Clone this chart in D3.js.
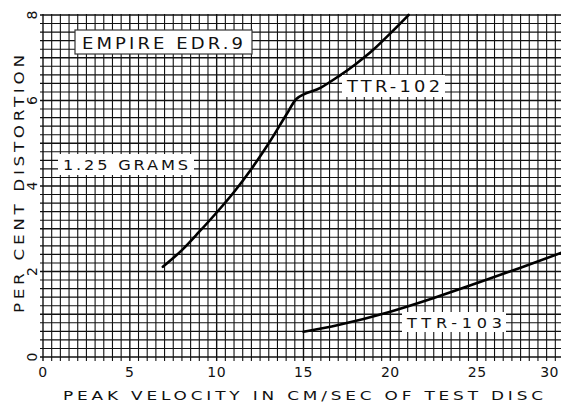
<!DOCTYPE html>
<html><head><meta charset="utf-8">
<script src="https://cdn.jsdelivr.net/npm/d3@7"></script>
<style>
html,body{margin:0;padding:0;background:#fff;overflow:hidden;}
text{font-family:"DejaVu Sans",sans-serif;fill:#111;}
</style></head>
<body>
<svg id="c" width="561" height="404"></svg>
<script>
// ---- data ----
const xTicks = [0, 5, 10, 15, 20, 25, 30];
const yTicks = [0, 2, 4, 6, 8];
const ttr102X = [6.9, 8.0, 9.0, 10.0, 11.0, 12.0, 13.0, 14.0, 14.6, 16.0, 17.0, 18.0, 19.0, 20.0, 21.05];
const ttr102Y = [2.11, 2.50, 2.93, 3.38, 3.86, 4.40, 5.00, 5.66, 6.04, 6.30, 6.56, 6.85, 7.18, 7.57, 8.0];
const ttr103X = [15.0, 17.0, 20.0, 22.5, 25.0, 27.5, 30.0];
const ttr103Y = [0.59, 0.75, 1.06, 1.38, 1.73, 2.09, 2.46];
const xTitle = "PEAK VELOCITY IN CM/SEC OF TEST DISC";
const yTitle = "PER CENT DISTORTION";
const boxTitle = "EMPIRE EDR.9";
const noteLabel = "1.25 GRAMS";
const seriesLabels = ["TTR-102", "TTR-103"];

// ---- chart ----
const svg = d3.select("#c");
const x = d3.scaleLinear().domain([0, 30]).range([43, 564]);
const y = d3.scaleLinear().domain([0, 8]).range([357, 15]);

// graph paper grid
const g = svg.append("g");
const vLines = d3.range(0, 30.001, 0.5);
const hLines = d3.range(0, 8.001, 0.2);
g.selectAll("line.v").data(vLines).join("line")
  .attr("x1", d => x(d)).attr("x2", d => x(d))
  .attr("y1", y(8) - 1).attr("y2", y(0) + 4)
  .attr("stroke", "#111").attr("stroke-width", d => (d % 5 === 0) ? 1.4 : 1.1);
g.selectAll("line.h").data(hLines).join("line")
  .attr("x1", x(0) - 3).attr("x2", x(30))
  .attr("y1", d => y(d)).attr("y2", d => y(d))
  .attr("stroke", "#111").attr("stroke-width", d => (Math.abs(d - Math.round(d)) < 1e-6) ? 1.4 : 1.1);

// curves
const line = d3.line().x(d => x(d[0])).y(d => y(d[1])).curve(d3.curveMonotoneX);
const s102 = ttr102X.map((v, i) => [v, ttr102Y[i]]);
const s103 = ttr103X.map((v, i) => [v, ttr103Y[i]]);
[s102, s103].forEach(s => {
  svg.append("path").attr("d", line(s)).attr("fill", "none")
    .attr("stroke", "#000").attr("stroke-width", 2.6).attr("stroke-linecap", "round");
});

// wide lettering helper: text horizontally stretched like a lettering guide
function wideText(parent, txt, cx, baseline, size, width, sx, rot) {
  const grp = parent.append("g")
    .attr("transform", `translate(${cx},${baseline})` + (rot ? ` rotate(${rot})` : "") + ` scale(${sx},1)`);
  grp.append("text").attr("x", 0).attr("y", 0)
    .attr("text-anchor", "middle").attr("font-size", size)
    .attr("textLength", width / sx).attr("lengthAdjust", "spacing").text(txt);
  return grp;
}
function boxed(txt, cx, baseline, size, width, sx, box, border) {
  const grp = svg.append("g");
  grp.append("rect")
    .attr("x", box[0]).attr("y", box[1]).attr("width", box[2]).attr("height", box[3])
    .attr("fill", "#fff").attr("stroke", border ? "#333" : "none").attr("stroke-width", 1.2);
  wideText(grp, txt, cx, baseline, size, width, sx, 0);
}
boxed(boxTitle, 162.5, 48.5, 15, 161, 1.2, [75, 30, 177, 24], true);
boxed(noteLabel, 125.5, 169.5, 13.5, 125, 1.2, [58, 154, 136, 21], false);
boxed(seriesLabels[0], 393.5, 92, 15.5, 93, 1.15, [342, 75, 103, 22], false);
boxed(seriesLabels[1], 454.5, 327.5, 14, 95, 1.15, [402, 312, 104, 20], false);

// x tick labels (last one pulled inside the page edge)
svg.selectAll("text.xt").data(xTicks).join("text")
  .attr("class", "xt")
  .attr("x", d => d === 30 ? 559 : x(d)).attr("y", 377)
  .attr("text-anchor", d => d === 30 ? "end" : "middle").attr("font-size", 14)
  .attr("letter-spacing", 0.5).text(d => d);

// y tick labels (rotated)
svg.selectAll("text.yt").data(yTicks).join("text")
  .attr("class", "yt")
  .attr("transform", d => `translate(37,${y(d)}) rotate(-90)`)
  .attr("text-anchor", "middle").attr("font-size", 14).text(d => d);

// axis titles
wideText(svg, xTitle, 303, 400, 13, 480, 1.3, 0);
wideText(svg, yTitle, 23.5, 184, 13.5, 258, 1.25, -90);
</script>
</body></html>
